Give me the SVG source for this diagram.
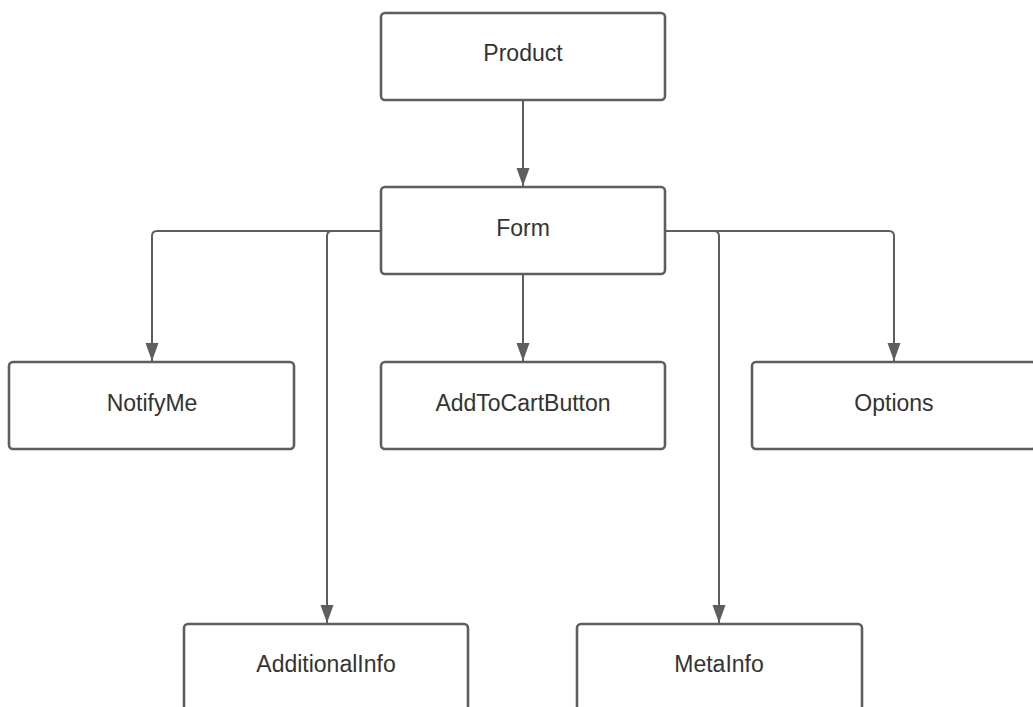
<svg xmlns="http://www.w3.org/2000/svg" width="1033" height="707" viewBox="0 0 1033 707">
  <style>
    .box { fill: #ffffff; stroke: #5e5e5e; stroke-width: 2.6; }
    .label { font-family: "Liberation Sans", Arial, sans-serif; font-size: 23px; fill: #333333; text-anchor: middle; dominant-baseline: central; }
    .edge { fill: none; stroke: #5e5e5e; stroke-width: 2; }
  </style>
  <defs>
    <marker id="arrow" markerWidth="20" markerHeight="14" refX="18" refY="7" orient="auto" markerUnits="userSpaceOnUse">
      <path d="M0,0.5 L18,7 L0,13.5 Z" fill="#5e5e5e"/>
    </marker>
  </defs>
  <rect width="1033" height="707" fill="#ffffff"/>

  <g id="connectors">
    <path class="edge" d="M523,100 V186" marker-end="url(#arrow)"/>
    <path class="edge" d="M381,231 H157 Q152,231 152,236 V361" marker-end="url(#arrow)"/>
    <path class="edge" d="M381,231 H332 Q327,231 327,236 V623" marker-end="url(#arrow)"/>
    <path class="edge" d="M523,274 V361" marker-end="url(#arrow)"/>
    <path class="edge" d="M665,231 H889 Q894,231 894,236 V361" marker-end="url(#arrow)"/>
    <path class="edge" d="M665,231 H714 Q719,231 719,236 V623" marker-end="url(#arrow)"/>
  </g>

  <g id="product">
    <rect class="box" x="381" y="13" width="284" height="87" rx="4"/>
    <text class="label" x="523" y="53">Product</text>
  </g>
  <g id="form">
    <rect class="box" x="381" y="187" width="284" height="87" rx="4"/>
    <text class="label" x="523" y="228">Form</text>
  </g>
  <g id="notifyme">
    <rect class="box" x="9" y="362" width="285" height="87" rx="4"/>
    <text class="label" x="152" y="403">NotifyMe</text>
  </g>
  <g id="addtocartbutton">
    <rect class="box" x="381" y="362" width="284" height="87" rx="4"/>
    <text class="label" x="523" y="403">AddToCartButton</text>
  </g>
  <g id="options">
    <rect class="box" x="752" y="362" width="284" height="87" rx="4"/>
    <text class="label" x="894" y="403">Options</text>
  </g>
  <g id="additionalinfo">
    <rect class="box" x="184" y="624" width="284" height="87" rx="4"/>
    <text class="label" x="326" y="664">AdditionalInfo</text>
  </g>
  <g id="metainfo">
    <rect class="box" x="577" y="624" width="285" height="87" rx="4"/>
    <text class="label" x="719" y="664">MetaInfo</text>
  </g>
</svg>
